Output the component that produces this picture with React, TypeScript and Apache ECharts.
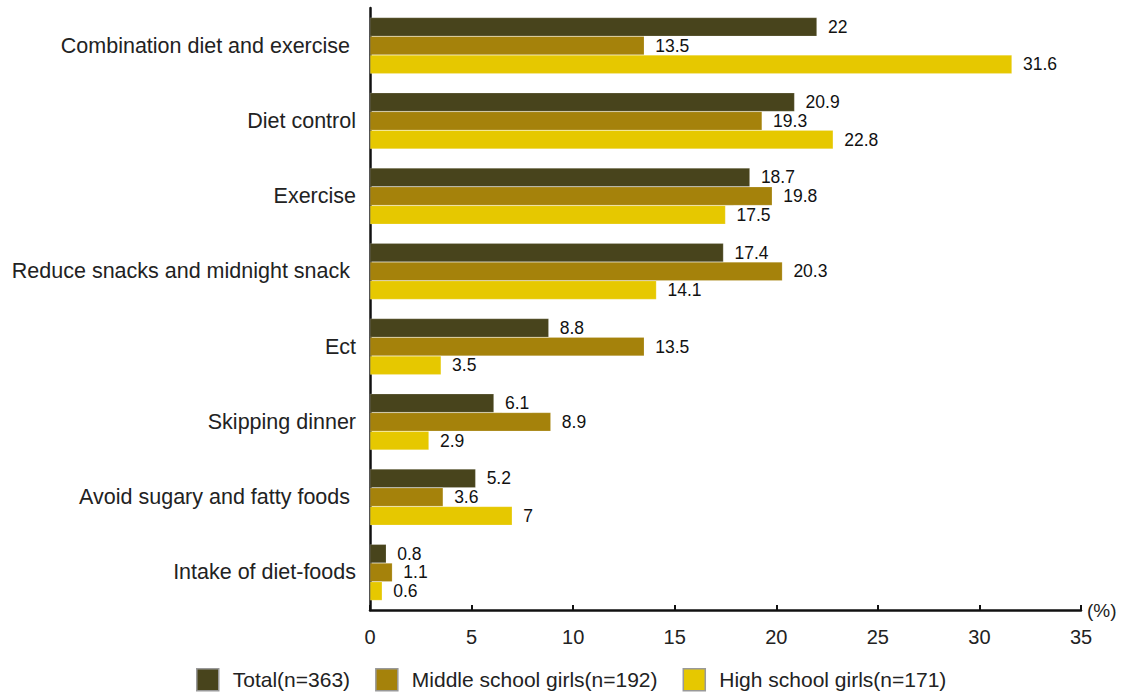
import React, { useEffect, useRef } from "react";
import * as echarts from "echarts";

const categories = [
  "Combination diet and exercise ",
  "Diet control",
  "Exercise",
  "Reduce snacks and midnight snack ",
  "Ect",
  "Skipping dinner",
  "Avoid sugary and fatty foods ",
  "Intake of diet-foods",
];
const seriesNames = ["Total(n=363)", "Middle school girls(n=192)", "High school girls(n=171)"];
const totalValues = [22, 20.9, 18.7, 17.4, 8.8, 6.1, 5.2, 0.8];
const middleValues = [13.5, 19.3, 19.8, 20.3, 13.5, 8.9, 3.6, 1.1];
const highValues = [31.6, 22.8, 17.5, 14.1, 3.5, 2.9, 7, 0.6];
const colors = ["#48441c", "#a5820b", "#e6c800"];
const xTicks = [0, 5, 10, 15, 20, 25, 30, 35];

const FONT = "Liberation Sans";

export default function App() {
  const ref = useRef<HTMLDivElement>(null);
  useEffect(() => {
    document.body.style.margin = "0";
    if (!ref.current) return;
    const chart = echarts.init(ref.current, undefined, { renderer: "svg" });
    const data = [totalValues, middleValues, highValues];
    chart.setOption({
      animation: false,
      backgroundColor: "#ffffff",
      textStyle: { fontFamily: FONT },
      legend: {
        left: 191,
        top: 663,
        itemWidth: 22,
        itemHeight: 22,
        itemGap: 25,
        icon: "rect",
        itemStyle: { borderColor: "#999999", borderWidth: 1.5 },
        textStyle: { fontSize: 21, color: "#222", fontFamily: FONT, padding: [0, 0, 0, 9] },
        data: seriesNames,
      },
      grid: { left: 370, right: 41, top: 8, bottom: 83, containLabel: false },
      xAxis: {
        type: "value",
        min: xTicks[0],
        max: xTicks[xTicks.length - 1],
        interval: 5,
        name: "(%)",
        nameLocation: "end",
        nameGap: 6,
        nameTextStyle: { fontSize: 19, color: "#222", fontFamily: FONT, verticalAlign: "middle", padding: [0, 0, 6, 0] },
        axisLine: { show: true, lineStyle: { color: "#111", width: 2.5 } },
        axisTick: { show: true, inside: true, length: 5, lineStyle: { color: "#111", width: 2 } },
        axisLabel: { fontSize: 20, color: "#222", margin: 17, fontFamily: FONT },
        splitLine: { show: false },
      },
      yAxis: {
        type: "category",
        inverse: true,
        data: categories,
        axisLine: { show: true, lineStyle: { color: "#111", width: 2.5 } },
        axisTick: { show: false },
        axisLabel: { fontSize: 21.5, color: "#222", margin: 14, fontFamily: FONT },
      },
      series: seriesNames.map((name, i) => ({
        name,
        type: "bar",
        data: data[i],
        barWidth: 18.7,
        barGap: "0%",
        barCategoryGap: "25%",
        itemStyle: { color: colors[i], borderColor: "rgba(255,255,255,0.35)", borderWidth: 0.5 },
        label: {
          show: true,
          position: "right",
          distance: 8,
          fontSize: 17.5,
          color: "#111",
          fontFamily: FONT,
          backgroundColor: "#ffffff",
          padding: [0, 3],
        },
      })),
    });
    return () => chart.dispose();
  }, []);
  return <div ref={ref} style={{ width: 1122, height: 693 }} />;
}
